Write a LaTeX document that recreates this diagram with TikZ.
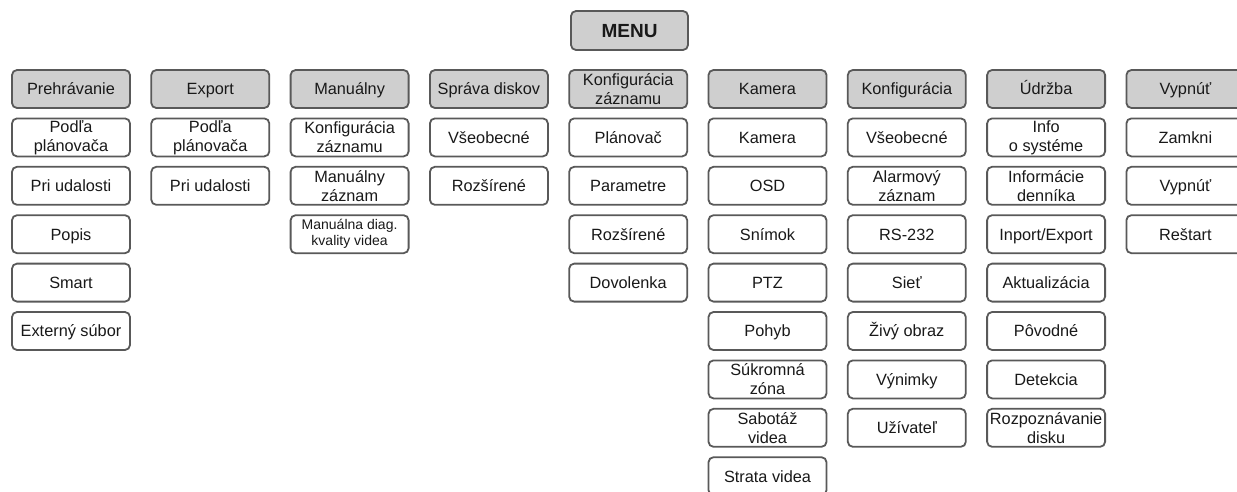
\documentclass[tikz,border=0pt]{standalone}
\usepackage{fontspec}
\setmainfont{Liberation Sans}
\begin{document}
\begin{tikzpicture}[x=1pt,y=-1pt,
  box/.style={draw=black!65, line width=1.8pt, rounded corners=5pt,
    minimum width=118pt, minimum height=38pt, inner sep=0pt, align=center,
    text=black!90, font=\fontsize{16.3}{19}\selectfont,
    text height=11.6pt, text depth=0pt},
  two/.style={text height={}, text depth={}},
  hdr/.style={box, fill=black!19},
  item/.style={box, fill=white},
  small/.style={font=\fontsize{14}{16}\selectfont}]
\useasboundingbox (0,0) rectangle (1237,491);
\clip (0,0) rectangle (1237,491);
\def\cA{71}\def\cB{210.3}\def\cC{349.6}\def\cD{488.9}\def\cE{628.2}
\def\cF{767.5}\def\cG{906.8}\def\cH{1046.1}\def\cI{1185.4}
\def\rO{89}\def\rA{137.4}\def\rB{185.8}\def\rC{234.2}\def\rD{282.6}
\def\rE{331}\def\rF{379.4}\def\rG{427.8}\def\rH{476.2}
% top
\node[hdr, font=\fontsize{19}{21}\selectfont\bfseries, text height=13.7pt, text depth=0pt, minimum width=117pt, minimum height=39pt] (menu) at (629.5,30.5) {MENU};
% column 1
\node[hdr]  (h1)  at (\cA,\rO) {Prehrávanie};
\node[item, two] (a1)  at (\cA,\rA) {Podľa\\plánovača};
\node[item] (a2)  at (\cA,\rB) {Pri udalosti};
\node[item] (a3)  at (\cA,\rC) {Popis};
\node[item] (a4)  at (\cA,\rD) {Smart};
\node[item] (a5)  at (\cA,\rE) {Externý súbor};
% column 2
\node[hdr]  (h2)  at (\cB,\rO) {Export};
\node[item, two] (b1)  at (\cB,\rA) {Podľa\\plánovača};
\node[item] (b2)  at (\cB,\rB) {Pri udalosti};
% column 3
\node[hdr]  (h3)  at (\cC,\rO) {Manuálny};
\node[item, two] (c1)  at (\cC,\rA) {Konfigurácia\\záznamu};
\node[item, two] (c2)  at (\cC,\rB) {Manuálny\\záznam};
\node[item, two, small] (c3)  at (\cC,\rC) {Manuálna diag.\\kvality videa};
% column 4
\node[hdr]  (h4)  at (\cD,\rO) {Správa diskov};
\node[item] (d1)  at (\cD,\rA) {Všeobecné};
\node[item] (d2)  at (\cD,\rB) {Rozšírené};
% column 5
\node[hdr, two]  (h5)  at (\cE,\rO) {Konfigurácia\\záznamu};
\node[item] (e1)  at (\cE,\rA) {Plánovač};
\node[item] (e2)  at (\cE,\rB) {Parametre};
\node[item] (e3)  at (\cE,\rC) {Rozšírené};
\node[item] (e4)  at (\cE,\rD) {Dovolenka};
% column 6
\node[hdr]  (h6)  at (\cF,\rO) {Kamera};
\node[item] (f1)  at (\cF,\rA) {Kamera};
\node[item] (f2)  at (\cF,\rB) {OSD};
\node[item] (f3)  at (\cF,\rC) {Snímok};
\node[item] (f4)  at (\cF,\rD) {PTZ};
\node[item] (f5)  at (\cF,\rE) {Pohyb};
\node[item, two] (f6)  at (\cF,\rF) {Súkromná\\zóna};
\node[item, two] (f7)  at (\cF,\rG) {Sabotáž\\videa};
\node[item] (f8)  at (\cF,\rH) {Strata videa};
% column 7
\node[hdr]  (h7)  at (\cG,\rO) {Konfigurácia};
\node[item] (g1)  at (\cG,\rA) {Všeobecné};
\node[item, two] (g2)  at (\cG,\rB) {Alarmový\\záznam};
\node[item] (g3)  at (\cG,\rC) {RS-232};
\node[item] (g4)  at (\cG,\rD) {Sieť};
\node[item] (g5)  at (\cG,\rE) {Živý obraz};
\node[item] (g6)  at (\cG,\rF) {Výnimky};
\node[item] (g7)  at (\cG,\rG) {Užívateľ};
% column 8
\node[hdr]  (h8)  at (\cH,\rO) {Údržba};
\node[item, two] (k1)  at (\cH,\rA) {Info\\o systéme};
\node[item, two] (k2)  at (\cH,\rB) {Informácie\\denníka};
\node[item] (k3)  at (\cH,\rC) {Inport/Export};
\node[item] (k4)  at (\cH,\rD) {Aktualizácia};
\node[item] (k5)  at (\cH,\rE) {Pôvodné};
\node[item] (k6)  at (\cH,\rF) {Detekcia};
\node[item, two] (k7)  at (\cH,\rG) {Rozpoznávanie\\disku};
% column 9
\node[hdr]  (h9)  at (\cI,\rO) {Vypnúť};
\node[item] (m1)  at (\cI,\rA) {Zamkni};
\node[item] (m2)  at (\cI,\rB) {Vypnúť};
\node[item] (m3)  at (\cI,\rC) {Reštart};
\end{tikzpicture}
\end{document}
